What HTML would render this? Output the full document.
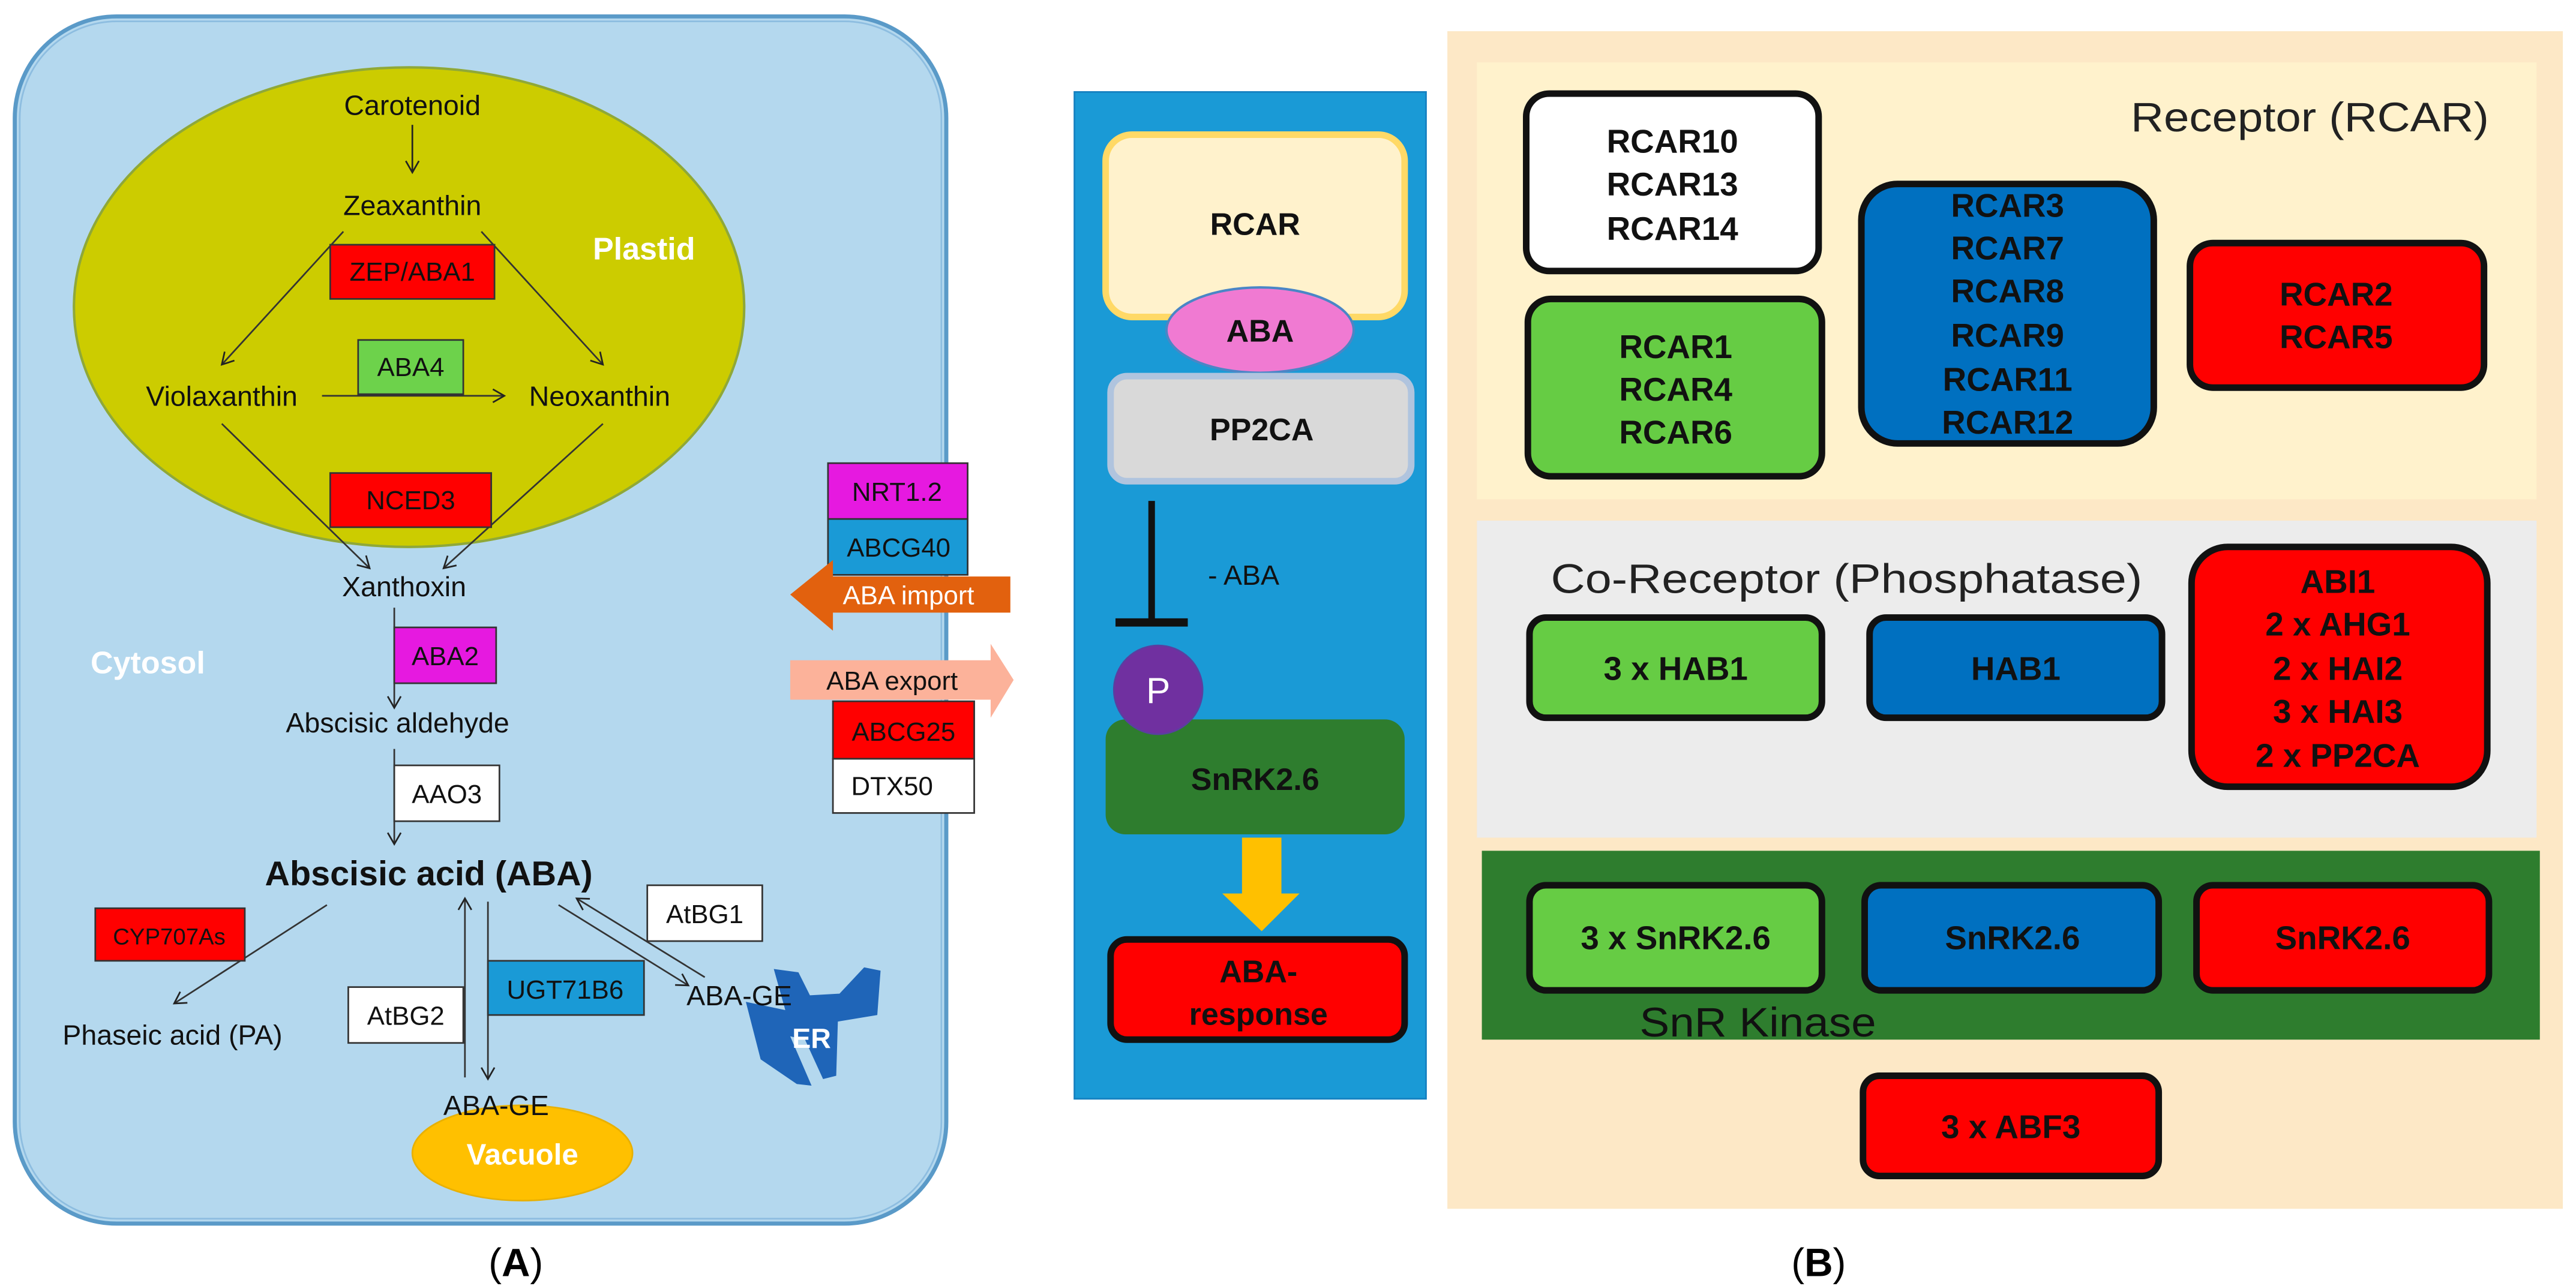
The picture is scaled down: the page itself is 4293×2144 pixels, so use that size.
<!DOCTYPE html>
<html><head><meta charset="utf-8"><style>
html,body{margin:0;padding:0;background:#fff}
svg{display:block}
text{font-family:"Liberation Sans",sans-serif}
</style></head><body>
<svg width="4293" height="2144" viewBox="0 0 1568 783" preserveAspectRatio="none" xmlns="http://www.w3.org/2000/svg">
<defs>
<marker id="ah" markerWidth="10" markerHeight="10" refX="8" refY="5" orient="auto" markerUnits="userSpaceOnUse">
<path d="M1,1 L8,5 L1,9" fill="none" stroke="#222" stroke-width="1"/>
</marker>
</defs>
<rect x="0" y="0" width="1568" height="783" fill="#fff"/>
<rect x="9" y="10" width="567" height="735" rx="62" fill="#b4d8ee" stroke="#5a9ac8" stroke-width="2.5"/>
<rect x="12" y="13" width="561" height="729" rx="59" fill="none" stroke="#8dbde0" stroke-width="1"/>
<ellipse cx="249" cy="187" rx="204" ry="146" fill="#cccc00" stroke="#8fa838" stroke-width="1.5"/>
<g font-size="17" text-anchor="middle" fill="#111">
<text x="251" y="70">Carotenoid</text>
<line x1="251" y1="76" x2="251" y2="105" stroke="#222" stroke-width="1" marker-end="url(#ah)"/>
<text x="251" y="131">Zeaxanthin</text>
<text x="135" y="247">Violaxanthin</text>
<text x="365" y="247">Neoxanthin</text>
<text x="246" y="363">Xanthoxin</text>
<text x="242" y="446">Abscisic aldehyde</text>
<text x="105" y="636">Phaseic acid (PA)</text>
</g>
<text x="392" y="158" font-size="19" font-weight="bold" fill="#fff" text-anchor="middle">Plastid</text>
<text x="90" y="410" font-size="19" font-weight="bold" fill="#fff" text-anchor="middle">Cytosol</text>
<g stroke="#333" stroke-width="1" fill="none">
<line x1="209" y1="141" x2="135" y2="222" marker-end="url(#ah)"/>
<line x1="293" y1="141" x2="367" y2="222" marker-end="url(#ah)"/>
<line x1="196" y1="241" x2="307" y2="241" marker-end="url(#ah)"/>
<line x1="135" y1="258" x2="225" y2="346" marker-end="url(#ah)"/>
<line x1="367" y1="258" x2="270" y2="346" marker-end="url(#ah)"/>
<line x1="240" y1="370" x2="240" y2="431" marker-end="url(#ah)"/>
<line x1="240" y1="456" x2="240" y2="514" marker-end="url(#ah)"/>
<line x1="199" y1="551" x2="106" y2="611" marker-end="url(#ah)"/>
<line x1="283" y1="656" x2="283" y2="547" marker-end="url(#ah)"/>
<line x1="297" y1="549" x2="297" y2="657" marker-end="url(#ah)"/>
<line x1="340" y1="551" x2="419" y2="600" marker-end="url(#ah)"/>
<line x1="429" y1="595" x2="351" y2="547" marker-end="url(#ah)"/>
</g>
<g stroke="#333" stroke-width="1" font-size="16">
<rect x="201" y="149" width="100" height="33" fill="#ff0000"/>
<rect x="218" y="207" width="64" height="33" fill="#6dd24b"/>
<rect x="201" y="288" width="98" height="33" fill="#ff0000"/>
<rect x="240" y="382" width="62" height="34" fill="#e619e0"/>
<rect x="240" y="466" width="64" height="34" fill="#fff"/>
<rect x="58" y="553" width="91" height="32" fill="#ff0000"/>
<rect x="212" y="601" width="70" height="34" fill="#fff"/>
<rect x="297" y="585" width="95" height="33" fill="#1a9ad6"/>
<rect x="394" y="539" width="70" height="34" fill="#fff"/>
</g>
<g font-size="16" text-anchor="middle" fill="#111">
<text x="251" y="171">ZEP/ABA1</text>
<text x="250" y="229">ABA4</text>
<text x="250" y="310">NCED3</text>
<text x="271" y="405">ABA2</text>
<text x="272" y="489">AAO3</text>
<text x="103" y="575" font-size="14">CYP707As</text>
<text x="247" y="624">AtBG2</text>
<text x="344" y="608">UGT71B6</text>
<text x="429" y="562">AtBG1</text>
</g>
<text x="261" y="539" font-size="21" font-weight="bold" text-anchor="middle" fill="#111">Abscisic acid (ABA)</text>
<path d="M471,590 L486,592 L493,606 L511,605 L526,589 L536,591 L534,618 L510,622 L509,655 L501,657 L490,633 L481,631 L494,661 L485,660 L463,645 L454,610 L478,615 Z" fill="#1f65b8"/>
<text x="494" y="638" font-size="17" font-weight="bold" fill="#fff" text-anchor="middle">ER</text>
<ellipse cx="318" cy="702" rx="67" ry="29" fill="#ffc000" stroke="#e8b000"/>
<text x="318" y="709" font-size="18" font-weight="bold" fill="#fff" text-anchor="middle">Vacuole</text>
<g font-size="17" text-anchor="middle" fill="#111">
<text x="450" y="612">ABA-GE</text>
<text x="302" y="679">ABA-GE</text>
</g>
<g stroke="#333" stroke-width="1">
<rect x="504" y="282" width="85" height="34" fill="#e619e0"/>
<rect x="504" y="316" width="85" height="34" fill="#1a9ad6"/>
<rect x="507" y="427" width="86" height="35" fill="#ff0000"/>
<rect x="507" y="462" width="86" height="33" fill="#fff"/>
</g>
<polygon points="615,351 615,373 507,373 507,384 481,362 507,341 507,351" fill="#e2610e"/>
<polygon points="481,402 603,402 603,392 617,414 603,437 603,426 481,426" fill="#fcb29a"/>
<g font-size="16" text-anchor="middle" fill="#111">
<text x="546" y="305">NRT1.2</text>
<text x="547" y="339">ABCG40</text>
<text x="553" y="368" fill="#fff">ABA import</text>
<text x="543" y="420">ABA export</text>
<text x="550" y="451">ABCG25</text>
<text x="543" y="484">DTX50</text>
</g>
<text x="314" y="777" font-size="24" font-family="Liberation Serif,serif" text-anchor="middle">(<tspan font-weight="bold">A</tspan>)</text>
<rect x="654" y="56" width="214" height="613" fill="#1a9ad6" stroke="#1580c0"/>
<rect x="673" y="82" width="182" height="111" rx="16" fill="#fff2cc" stroke="#ffd966" stroke-width="4"/>
<text x="764" y="143" font-size="19" font-weight="bold" text-anchor="middle" fill="#111">RCAR</text>
<ellipse cx="767" cy="201" rx="57" ry="26" fill="#f07ad2" stroke="#4a86c6" stroke-width="1.5"/>
<text x="767" y="208" font-size="19" font-weight="bold" text-anchor="middle" fill="#111">ABA</text>
<rect x="676" y="229" width="183" height="64" rx="10" fill="#d9d9d9" stroke="#b0c4de" stroke-width="4"/>
<text x="768" y="268" font-size="19" font-weight="bold" text-anchor="middle" fill="#111">PP2CA</text>
<line x1="701" y1="305" x2="701" y2="379" stroke="#111" stroke-width="4"/>
<line x1="679" y1="379" x2="723" y2="379" stroke="#111" stroke-width="5"/>
<text x="757" y="356" font-size="17" text-anchor="middle" fill="#111">- ABA</text>
<rect x="673" y="438" width="182" height="70" rx="12" fill="#2e7d2e"/>
<circle cx="705" cy="420" r="27" fill="#7030a0" stroke="#5a3fa0"/>
<text x="705" y="428" font-size="22" text-anchor="middle" fill="#fff">P</text>
<text x="764" y="481" font-size="19" font-weight="bold" text-anchor="middle" fill="#111">SnRK2.6</text>
<polygon points="756,510 780,510 780,544 791,544 768,567 744,544 756,544" fill="#ffc000"/>
<rect x="676" y="572" width="179" height="61" rx="10" fill="#ff0000" stroke="#111" stroke-width="4"/>
<text x="766" y="598" font-size="19" font-weight="bold" text-anchor="middle" fill="#111">ABA-</text>
<text x="766" y="624" font-size="19" font-weight="bold" text-anchor="middle" fill="#111">response</text>
<rect x="881" y="19" width="679" height="717" fill="#fde8c6"/>
<rect x="899" y="38" width="645" height="266" fill="#fff2cc"/>
<rect x="899" y="317" width="645" height="193" fill="#ececec"/>
<rect x="902" y="518" width="644" height="115" fill="#2e7d2e"/>
<text x="1515" y="80" font-size="25" text-anchor="end" fill="#222" textLength="218" lengthAdjust="spacingAndGlyphs">Receptor (RCAR)</text>
<text x="944" y="361" font-size="25" fill="#222" textLength="360" lengthAdjust="spacingAndGlyphs">Co-Receptor (Phosphatase)</text>
<text x="998" y="631" font-size="25" fill="#111" textLength="144" lengthAdjust="spacingAndGlyphs">SnR Kinase</text>
<g stroke="#111" stroke-width="4">
<rect x="929" y="57" width="178" height="108" rx="14" fill="#fff"/>
<rect x="930" y="182" width="179" height="108" rx="14" fill="#66cc44"/>
<rect x="1133" y="112" width="178" height="158" rx="22" fill="#0070c0"/>
<rect x="1333" y="148" width="179" height="88" rx="14" fill="#ff0000"/>
<rect x="931" y="376" width="178" height="61" rx="10" fill="#66cc44"/>
<rect x="1138" y="376" width="178" height="61" rx="10" fill="#0070c0"/>
<rect x="1334" y="333" width="180" height="146" rx="22" fill="#ff0000"/>
<rect x="931" y="539" width="178" height="64" rx="10" fill="#66cc44"/>
<rect x="1135" y="539" width="179" height="64" rx="10" fill="#0070c0"/>
<rect x="1337" y="539" width="178" height="64" rx="10" fill="#ff0000"/>
<rect x="1134" y="655" width="180" height="61" rx="10" fill="#ff0000"/>
</g>
<g font-size="20" font-weight="bold" text-anchor="middle" fill="#111">
<text x="1018" y="93">RCAR10</text>
<text x="1018" y="119">RCAR13</text>
<text x="1018" y="146">RCAR14</text>
<text x="1020" y="218">RCAR1</text>
<text x="1020" y="244">RCAR4</text>
<text x="1020" y="270">RCAR6</text>
<text x="1222" y="132">RCAR3</text>
<text x="1222" y="158">RCAR7</text>
<text x="1222" y="184">RCAR8</text>
<text x="1222" y="211">RCAR9</text>
<text x="1222" y="238">RCAR11</text>
<text x="1222" y="264">RCAR12</text>
<text x="1422" y="186">RCAR2</text>
<text x="1422" y="212">RCAR5</text>
<text x="1020" y="414">3 x HAB1</text>
<text x="1227" y="414">HAB1</text>
<text x="1423" y="361">ABI1</text>
<text x="1423" y="387">2 x AHG1</text>
<text x="1423" y="414">2 x HAI2</text>
<text x="1423" y="440">3 x HAI3</text>
<text x="1423" y="467">2 x PP2CA</text>
<text x="1020" y="578">3 x SnRK2.6</text>
<text x="1225" y="578">SnRK2.6</text>
<text x="1426" y="578">SnRK2.6</text>
<text x="1224" y="693">3 x ABF3</text>
</g>
<text x="1107" y="777" font-size="24" font-family="Liberation Serif,serif" text-anchor="middle">(<tspan font-weight="bold">B</tspan>)</text>
</svg>
</body></html>
